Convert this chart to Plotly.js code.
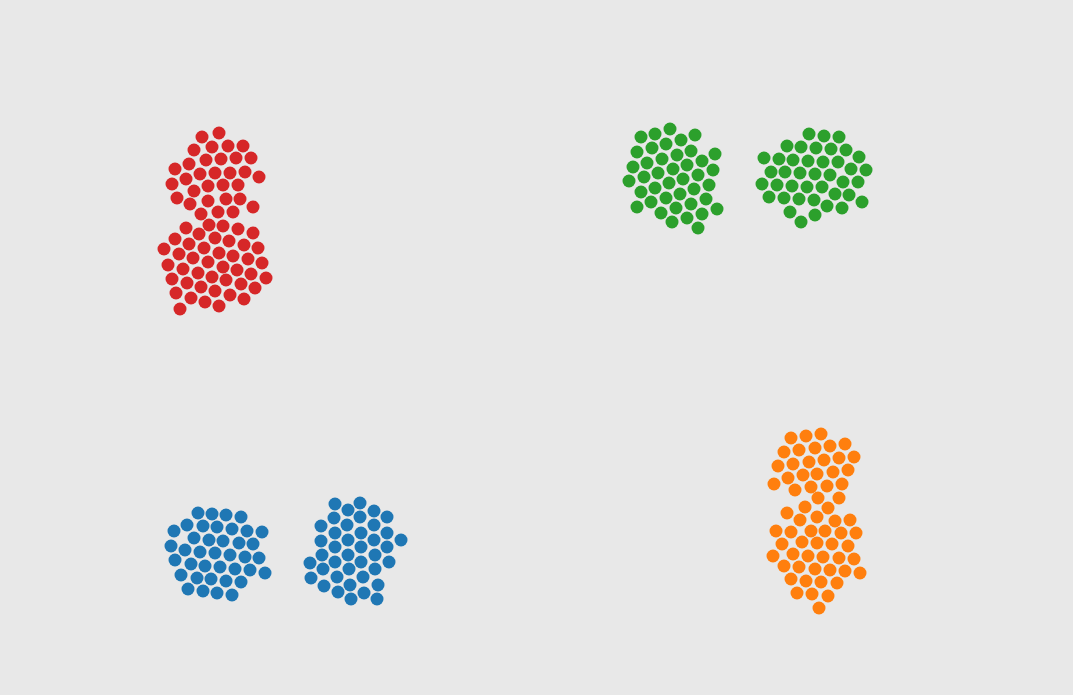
<!DOCTYPE html>
<html>
<head>
<meta charset="utf-8">
<script src="https://cdn.plot.ly/plotly-3.0.1.min.js"></script>
<style>html,body{margin:0;padding:0;background:#e8e8e8;}#chart{width:1073px;height:695px;}</style>
</head>
<body>
<div id="chart"></div>
<script>
// Values (x to the right, y downward)
const redX = [202,219, 194,212,228,243, 189,206,221,236,251, 175,186,200,215,230,245,259, 172,194,208,223,238, 177,190,208,226,240,253, 201,218,233,
  186,209,223,238,253, 175,199,215,229,244,258, 164,189,204,219,233,248,262, 179,193,208,223,237,251,266, 168,183,198,212,226,241,255, 172,187,201,215,230,244, 176,191,205,219, 180];
const redY = [137,133, 150,147,146,146, 164,160,159,158,158, 169,179,174,173,173,172,177, 184,191,186,185,185, 198,204,201,199,199,207, 214,212,212,
  228,225,226,229,233, 239,234,238,241,245,248, 249,244,248,253,256,259,263, 254,258,262,267,270,274,278, 265,269,273,277,280,284,288, 279,283,287,291,295,299, 293,298,302,306, 309];

const blueX = [198,212,226,241, 174,187,203,217,232,247,262, 194,209,223,239,253, 171,185,200,215,230,245,259, 175,191,205,220,235,250,265, 181,197,211,226,241, 188,203,217,232,
  335,360, 348,374, 334,360,387, 321,347,374, 335,361,387, 321,348,374,401, 335,361,387, 322,348,375, 310,335,361,389, 323,349,375, 311,337,363, 324,350,378, 338,364, 351,377];
const blueY = [513,514,515,517, 531,525,526,527,529,531,532, 538,540,541,543,544, 546,550,552,553,555,557,558, 560,564,566,567,569,570,573, 575,578,579,581,582, 589,591,593,595,
  504,503, 510,511, 518,517,517, 526,525,525, 533,533,533, 541,540,540,540, 547,547,547, 555,555,555, 563,562,562,562, 569,569,569, 578,577,577, 586,585,585, 592,593, 599,599];

const greenX = [641,655,670,681,695, 637,652,666,677,691,715, 633,647,662,673,687,702,713, 629,644,658,669,683,698,709, 641,655,666,680,694,706, 637,651,661,676,691,702,717, 672,687,698,
  809,824,839, 787,801,816,831,846, 764,779,793,808,823,838,859, 771,785,800,815,830,851,866, 762,777,792,807,822,843,858, 769,784,799,814,835,849, 790,815,827,842,862, 801];
const greenY = [137,134,129,140,135, 152,148,144,155,151,154, 167,163,159,169,165,161,170, 181,177,173,183,179,175,185, 192,188,198,194,189,199, 207,202,213,208,204,214,209, 222,218,228,
  134,136,137, 146,147,148,149,150, 158,159,160,161,162,162,157, 172,172,173,174,175,169,170, 184,185,186,187,187,182,182, 197,198,199,200,194,195, 212,215,206,208,202, 222];

const orangeX = [791,806,821, 784,799,815,830,845, 778,793,809,824,839,854, 788,803,817,833,848, 774,795,811,827,842, 818,839, 805,828,
  787,800,817,835,850, 776,791,811,825,841,856, 782,802,817,832,848, 773,793,808,823,839,854, 784,799,815,830,845,860, 791,806,821,837, 797,812,828, 819];
const orangeY = [438,436,434, 452,450,448,446,444, 466,464,462,460,458,457, 478,475,474,472,470, 484,490,487,486,484, 498,498, 507,508,
  513,520,517,521,520, 531,532,531,531,533,533, 544,542,543,544,546, 556,554,556,557,558,559, 566,567,569,570,571,573, 579,581,582,583, 593,594,596, 608];

const groups = [
  {x: redX, y: redY, color: '#d62728'},
  {x: greenX, y: greenY, color: '#2ca02c'},
  {x: blueX, y: blueY, color: '#1f77b4'},
  {x: orangeX, y: orangeY, color: '#ff7f0e'}
];

const traces = groups.map(g => ({
  type: 'scatter', mode: 'markers', x: g.x, y: g.y,
  marker: {size: 13, color: g.color, line: {width: 0}},
  hoverinfo: 'skip', showlegend: false
}));

const hidden = {showgrid: false, zeroline: false, showticklabels: false, showline: false, ticks: '', fixedrange: true};
const layout = {
  width: 1073, height: 695,
  margin: {l: 0, r: 0, t: 0, b: 0},
  paper_bgcolor: '#e8e8e8', plot_bgcolor: '#e8e8e8',
  xaxis: Object.assign({range: [0, 1073]}, hidden),
  yaxis: Object.assign({range: [695, 0]}, hidden),
  showlegend: false
};
Plotly.newPlot('chart', traces, layout, {displayModeBar: false, staticPlot: true});
</script>
</body>
</html>
